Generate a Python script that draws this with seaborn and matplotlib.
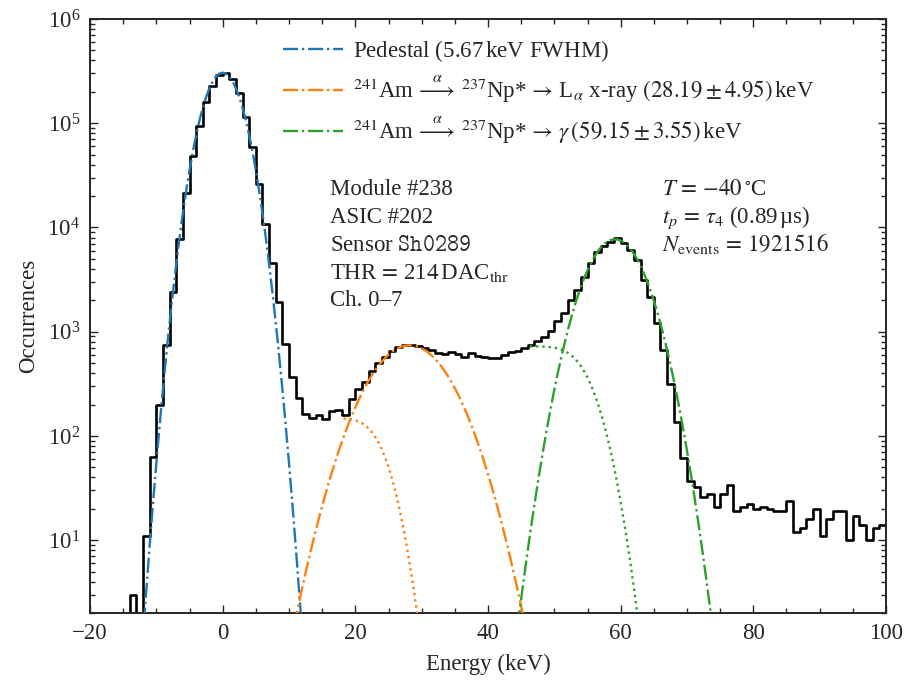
import math
import numpy as np
import pandas as pd
import matplotlib
matplotlib.use("Agg")
import matplotlib.pyplot as plt
from matplotlib.ticker import MultipleLocator, LogLocator, NullFormatter
import seaborn as sns

# ---------------- data ----------------
e_min, e_max, bin_width = -20, 100, 1        # 1 keV bins, -20 .. 100 keV
counts = [
    0, 0, 0, 0, 0, 0,                        # -20 .. -15
    3, 0, 11, 63, 198, 743, 2420, 7700,      # -14 .. -7
    21500, 48400, 94600, 160000, 229000, 290000,   # -6 .. -1
    301000, 264000, 194000, 115000, 59600, 26100,  # 0 .. 5
    10900, 4580, 1940, 760, 369, 229,        # 6 .. 11
    164, 150, 158, 144, 173, 177, 158, 224,  # 12 .. 19
    279, 331, 422, 496, 567, 656, 717, 745,  # 20 .. 27
    745, 728, 702, 666, 629, 606, 643, 610,  # 28 .. 35
    567, 620, 584, 567, 563, 563, 597, 643,  # 36 .. 43
    656, 690, 740, 810, 895, 1015, 1265, 1500,  # 44 .. 51
    2013, 2512, 3324, 4530, 5860, 6640, 7310, 7870,  # 52 .. 59
    7150, 6080, 4870, 3130, 2170, 1200, 665, 318,   # 60 .. 67
    136, 61, 37, 32, 26, 28, 21, 28,         # 68 .. 75
    34, 19, 21, 22, 20, 21, 20, 19,          # 76 .. 83
    19, 24, 12, 13, 16, 20, 11, 16,          # 84 .. 91
    19, 19, 10, 17, 14, 10, 13, 14,          # 92 .. 99
]
bin_centers = np.arange(e_min, e_max, bin_width) + 0.5 * bin_width
hist_df = pd.DataFrame({"energy": bin_centers, "count": counts})

# Gaussian fit parameters (amplitude, mean, sigma) in keV
ped_amp, ped_mu, ped_fwhm = 305000, 0.0, 5.67
la_amp, la_mu, la_sigma = 740, 28.19, 4.95
g_amp, g_mu, g_sigma = 7700, 59.15, 3.55
# step-like (dotted) background components: plateau, edge, width, start
la_step = (148, 24.0, 2.4, 18.2)
g_step = (725, 55.0, 2.7, 46.3)

labels = [
    "Pedestal (5.67$\\,$keV FWHM)",
    r"$^{241}$Am$\,\overset{\alpha}{\longrightarrow}\,^{237}$Np*$\,\rightarrow\,$L$_{\alpha}$ x-ray $(28.19\pm4.95)\,$keV",
    r"$^{241}$Am$\,\overset{\alpha}{\longrightarrow}\,^{237}$Np*$\,\rightarrow\,\gamma\,(59.15\pm3.55)\,$keV",
]
info_left = ["Module #238", "ASIC #202", r"Sensor $\mathtt{Sh0289}$",
             r"THR$\,=\,$214$\,$DAC$_{\mathrm{thr}}$", "Ch. 0–7"]
info_right = [r"$T\,=\,{-}40\,^{\circ}$C", r"$t_p\,=\,\tau_4$ (0.89$\,$µs)",
              r"$N_{\mathrm{events}}\,=\,1921516$"]

# ---------------- style ----------------
sns.set_style("ticks")
plt.rcParams["font.family"] = ["Liberation Serif", "DejaVu Serif"]
plt.rcParams["mathtext.fontset"] = "stix"
plt.rcParams["axes.linewidth"] = 1.4
FS = 16.5

fig = plt.figure(figsize=(9.09, 6.80), dpi=100)
ax = fig.add_axes([90 / 909, 1 - 613 / 680, 796 / 909, 594 / 680])

sns.histplot(data=hist_df, x="energy", weights="count", binwidth=bin_width,
             binrange=(e_min, e_max), element="step", fill=False,
             color="black", linewidth=1.9, ax=ax, zorder=2)
ax.set_yscale("log")

def gauss(x, a, mu, s):
    return a * np.exp(-0.5 * ((x - mu) / s) ** 2)

def step(x, a, mu, s):
    return np.array([0.5 * a * math.erfc((xi - mu) / (math.sqrt(2) * s)) for xi in x])

xg = np.linspace(e_min, e_max, 2400)
ped_sigma = ped_fwhm / (2 * math.sqrt(2 * math.log(2)))
colors = ["#1f77b4", "#ff7f0e", "#2ca02c"]
curves = [gauss(xg, ped_amp, ped_mu, ped_sigma),
          gauss(xg, la_amp, la_mu, la_sigma),
          gauss(xg, g_amp, g_mu, g_sigma)]
for c, y, lab in zip(colors, curves, labels):
    m = y > 0.5
    sns.lineplot(x=xg[m], y=y[m], color=c, linestyle="-.", linewidth=1.7,
                 label=lab, ax=ax, zorder=3, estimator=None, sort=False)

for c, (a, mu, s, x0) in zip(colors[1:], [la_step, g_step]):
    xs = np.linspace(x0, mu + 6 * s, 400)
    ys = step(xs, a, mu, s)
    m = ys > 0.5
    sns.lineplot(x=xs[m], y=ys[m], color=c, linestyle=":", linewidth=1.7,
                 ax=ax, zorder=3, estimator=None, sort=False, legend=False)

ax.set_xlim(e_min, e_max)
ax.set_ylim(2, 1e6)
ax.xaxis.set_major_locator(MultipleLocator(20))
ax.xaxis.set_minor_locator(MultipleLocator(5))
ax.yaxis.set_major_locator(LogLocator(base=10, numticks=20))
ax.yaxis.set_minor_locator(LogLocator(base=10, subs=np.arange(2, 10), numticks=20))
ax.yaxis.set_minor_formatter(NullFormatter())
ax.tick_params(which="both", direction="in", top=True, right=True,
               labelsize=FS, width=1.0, pad=7)
ax.tick_params(which="major", length=6)
ax.tick_params(which="minor", length=3.5)

ax.set_xlabel("Energy (keV)", fontsize=FS, labelpad=7)
ax.set_ylabel("Occurrences", fontsize=FS, labelpad=6)

leg = ax.legend(loc="upper left", bbox_to_anchor=(0.2425, 0.968), frameon=False,
                fontsize=FS, handlelength=2.6, handletextpad=0.45,
                labelspacing=0.42, borderpad=0, borderaxespad=0)

base_y = [0.7037, 0.6566, 0.6094, 0.5623, 0.5168]
for t, yb in zip(info_left, base_y):
    ax.text(0.3015, yb, t, transform=ax.transAxes, fontsize=FS, va="baseline", ha="left")
for t, yb in zip(info_right, base_y):
    ax.text(0.7186, yb, t, transform=ax.transAxes, fontsize=FS, va="baseline", ha="left")

fig.savefig("out.png", dpi=100)
